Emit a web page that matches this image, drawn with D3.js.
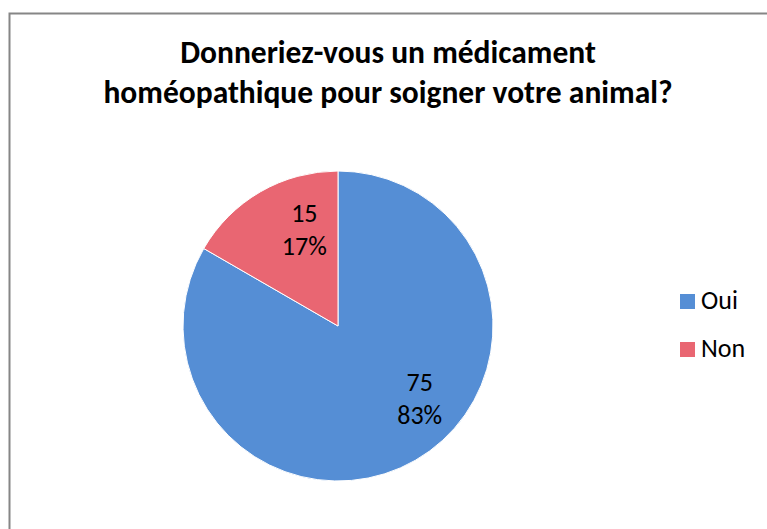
<!DOCTYPE html>
<html>
<head>
<meta charset="utf-8">
<script src="https://cdnjs.cloudflare.com/ajax/libs/d3/7.8.5/d3.min.js"></script>
<style>
  body { margin: 0; background: #fff; }
  text { font-family: Carlito, Calibri, "Open Sans", sans-serif; }
</style>
</head>
<body>
<script>
var titleLines = ["Donneriez-vous un médicament", "homéopathique pour soigner votre animal?"];
var categories = ["Oui", "Non"];
var values = [75, 15];
var percents = ["83%", "17%"];
var colors = ["#558ED5", "#E96672"];

var width = 767, height = 529;

var svg = d3.select("body").append("svg")
  .attr("width", width)
  .attr("height", height);

// chart frame
svg.append("rect")
  .attr("x", 9.5)
  .attr("y", 13.5)
  .attr("width", 770)
  .attr("height", 530)
  .attr("fill", "#fff")
  .attr("stroke", "#868686")
  .attr("stroke-width", 2);

var title = svg.append("text")
  .attr("text-anchor", "middle")
  .attr("font-weight", "bold")
  .attr("font-size", 31.5)
  .attr("fill", "#000");

title.selectAll("tspan")
  .data(titleLines)
  .enter()
  .append("tspan")
  .attr("x", 388)
  .attr("y", function (d, i) { return 63 + i * 40; })
  .text(function (d) { return d; });

var radius = 155;
var pieG = svg.append("g").attr("transform", "translate(338,326)");

var pie = d3.pie().sort(null).value(function (d) { return d; });
var arc = d3.arc().innerRadius(0).outerRadius(radius);
var labelArc = d3.arc().innerRadius(radius * 0.68).outerRadius(radius * 0.68);

// excel "best fit" puts the labels a little off the bisector
var labelNudge = [[29, -14], [19, -1]];

var slices = pieG.selectAll("g.slice")
  .data(pie(values))
  .enter()
  .append("g")
  .attr("class", "slice");

slices.append("path")
  .attr("d", arc)
  .attr("fill", function (d, i) { return colors[i]; })
  .attr("stroke", "#fff")
  .attr("stroke-width", 1);

slices.append("text")
  .attr("text-anchor", "middle")
  .attr("font-size", 26)
  .attr("fill", "#000")
  .attr("transform", function (d, i) {
    var c = labelArc.centroid(d);
    return "translate(" + (c[0] + labelNudge[i][0]) + "," + (c[1] + labelNudge[i][1]) + ")";
  })
  .each(function (d, i) {
    var t = d3.select(this);
    t.append("tspan").attr("x", 0).attr("y", -12).text(values[i]);
    t.append("tspan").attr("x", 0).attr("y", 21).text(percents[i]);
  });

// legend
var legend = svg.append("g").attr("transform", "translate(680,294)");

var items = legend.selectAll("g")
  .data(categories)
  .enter()
  .append("g")
  .attr("transform", function (d, i) { return "translate(0," + i * 48 + ")"; });

items.append("rect")
  .attr("width", 15)
  .attr("height", 15)
  .attr("fill", function (d, i) { return colors[i]; });

items.append("text")
  .attr("x", 21)
  .attr("y", 15)
  .attr("font-size", 26)
  .attr("fill", "#000")
  .text(function (d) { return d; });
</script>
</body>
</html>
